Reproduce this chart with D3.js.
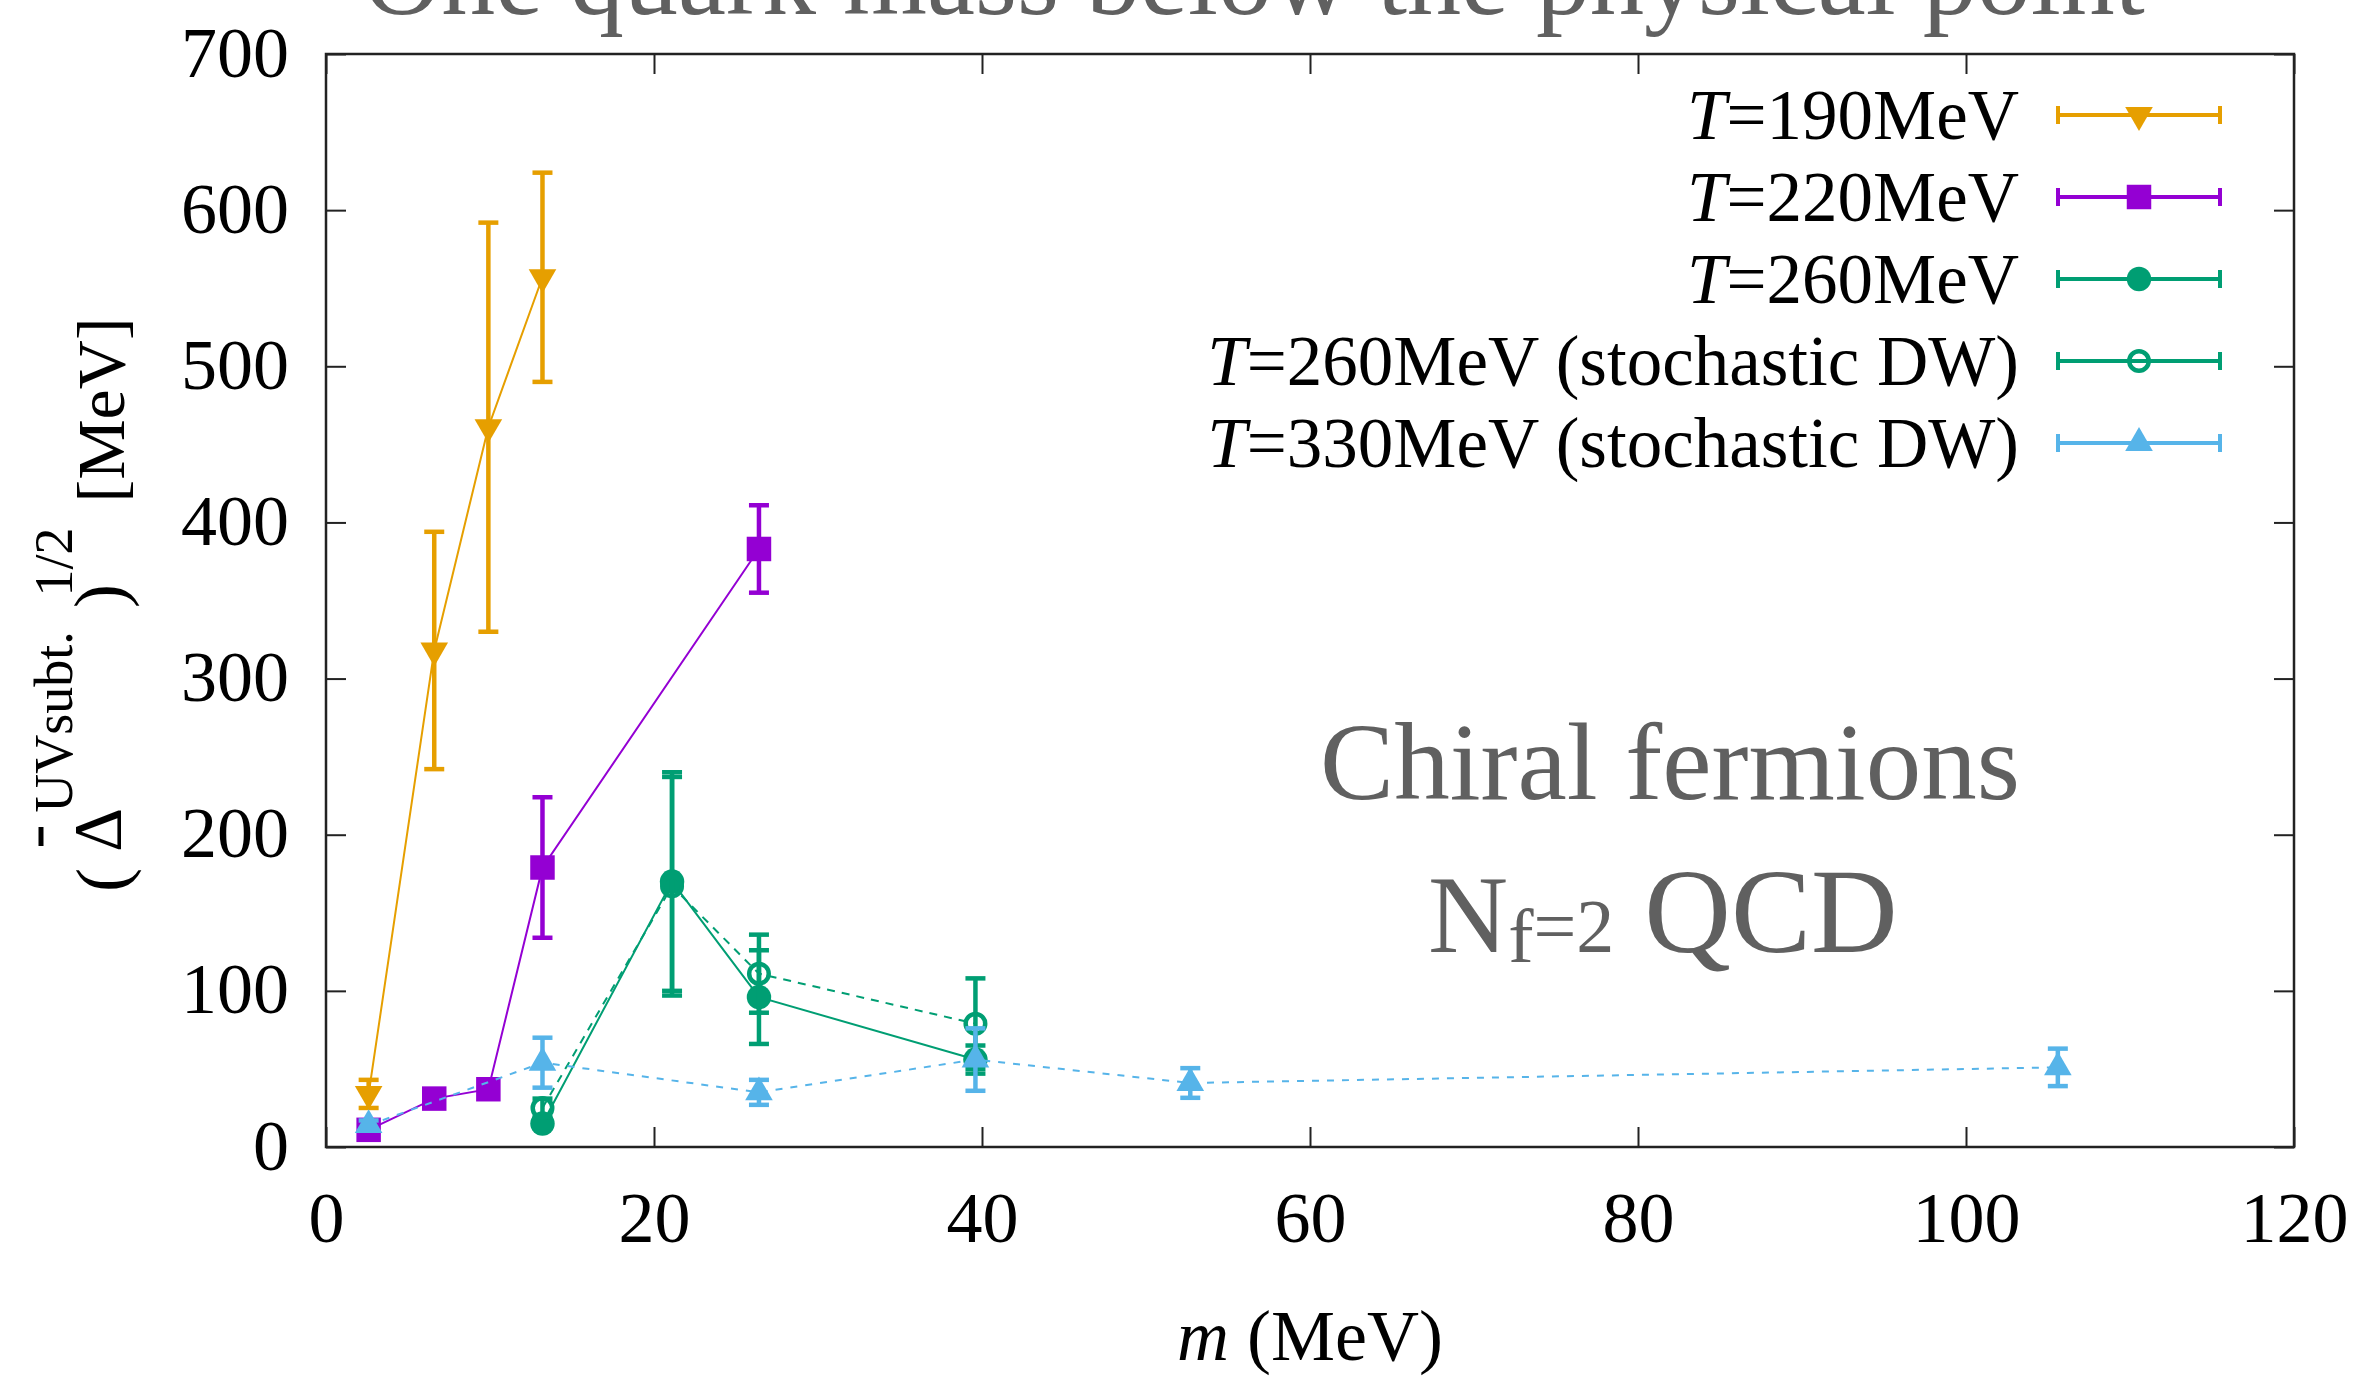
<!DOCTYPE html>
<html>
<head>
<meta charset="utf-8">
<script src="https://cdn.jsdelivr.net/npm/d3@7"></script>
<style>
  html, body { margin: 0; padding: 0; background: #fff; }
  svg { display: block; }
  text { font-family: "Liberation Serif", "DejaVu Serif", serif; }
</style>
</head>
<body>
<svg id="chart" width="2362" height="1380"></svg>
<script>
// Quark mass m (MeV) for each data series, with the measured value and its error
const m190 = [2.6, 6.6, 9.9, 13.2];
const v190 = [34, 318, 461, 557];
const e190 = [9, 76, 131, 67];

const m220 = [2.6, 6.6, 9.9, 13.2, 26.4];
const v220 = [11, 31, 37, 179, 383];
const e220 = [2, 2, 2, 45, 28];

const m260 = [13.2, 21.1, 26.4, 39.6];
const v260 = [15, 170, 96, 56];
const e260 = [3, 70, 30, 9];

const m260s = [13.2, 21.1, 26.4, 39.6];
const v260s = [25, 167, 111, 79];
const e260s = [6, 70, 25, 29];

const m330s = [2.6, 13.2, 26.4, 39.6, 52.7, 105.6];
const v330s = [14, 54, 35, 56, 41, 51];
const e330s = [3, 16, 8, 20, 9.5, 12];

const seriesLabels = ["=190MeV", "=220MeV", "=260MeV", "=260MeV (stochastic DW)", "=330MeV (stochastic DW)"];
const seriesColors = ["#E69F00", "#9400D3", "#009E73", "#009E73", "#56B4E9"];

const xTicks = [0, 20, 40, 60, 80, 100, 120];
const yTicks = [0, 100, 200, 300, 400, 500, 600, 700];

const svg = d3.select("#chart");
const L = 326, R = 2294, T = 54, B = 1147;
const x = d3.scaleLinear().domain([0, 120]).range([L, R]);
const y = d3.scaleLinear().domain([0, 700]).range([B, T]);

const tickFont = 72;

// Axes: inward ticks on all four sides
const gB = svg.append("g").attr("transform", `translate(0,${B})`)
  .call(d3.axisBottom(x).tickValues(xTicks).tickSizeInner(-20).tickSizeOuter(0).tickFormat(d3.format("d")));
gB.selectAll("text").attr("y", 95).attr("dy", null).attr("font-size", tickFont)
  .attr("font-family", "Liberation Serif").attr("fill", "#000");
const gL = svg.append("g").attr("transform", `translate(${L},0)`)
  .call(d3.axisLeft(y).tickValues(yTicks).tickSizeInner(-20).tickSizeOuter(0).tickFormat(d3.format("d")));
gL.selectAll("text").attr("x", -37).attr("dy", null).attr("y", 22).attr("font-size", tickFont)
  .attr("font-family", "Liberation Serif").attr("fill", "#000");
svg.append("g").attr("transform", `translate(0,${T})`)
  .call(d3.axisTop(x).tickValues(xTicks).tickSizeInner(-20).tickSizeOuter(0).tickFormat(""));
svg.append("g").attr("transform", `translate(${R},0)`)
  .call(d3.axisRight(y).tickValues(yTicks).tickSizeInner(-20).tickSizeOuter(0).tickFormat(""));
svg.selectAll(".domain").remove();
svg.selectAll(".tick line").attr("stroke", "#222").attr("stroke-width", 2);

svg.append("rect").attr("x", L).attr("y", T).attr("width", R - L).attr("height", B - T)
  .attr("fill", "none").attr("stroke", "#222").attr("stroke-width", 2.5);

// Title (partly outside the top edge)
svg.append("text").attr("x", 1254).attr("y", 14).attr("text-anchor", "middle")
  .attr("font-size", 108).attr("fill", "#606060")
  .text("One quark mass below the physical point");

// Annotation
svg.append("text").attr("x", 1670).attr("y", 799).attr("text-anchor", "middle")
  .attr("font-size", 111).attr("fill", "#606060").text("Chiral fermions");
const nf = svg.append("text").attr("x", 1428).attr("y", 952).attr("fill", "#606060").attr("font-size", 111);
nf.append("tspan").text("N");
nf.append("tspan").attr("font-size", 76).attr("dy", 10).text("f");
nf.append("tspan").attr("font-size", 76).attr("dy", -10).text("=2");
nf.append("tspan").attr("font-size", 120).text(" QCD");

// Axis labels
const xl = svg.append("text").attr("x", 1310).attr("y", 1360).attr("text-anchor", "middle").attr("font-size", 72);
xl.append("tspan").attr("font-style", "italic").text("m");
xl.append("tspan").text(" (MeV)");

function vlabel(txt, xb, yc, size) {
  svg.append("text").attr("transform", `translate(${xb},${yc}) rotate(-90)`)
    .attr("text-anchor", "middle").attr("font-size", size).text(txt);
}
vlabel("(", 126, 880, 72);
vlabel("Δ", 120, 830, 68);
svg.append("line").attr("x1", 41).attr("x2", 41).attr("y1", 827).attr("y2", 846)
  .attr("stroke", "#000").attr("stroke-width", 5);
vlabel("UVsubt.", 72, 722, 54);
vlabel(")", 124, 596, 72);
vlabel("1/2", 72, 562, 54);
vlabel("[MeV]", 124, 410, 68);

// Data series
const series = [
  { m: m190, v: v190, e: e190, sym: "tri-down", dash: null },
  { m: m220, v: v220, e: e220, sym: "square", dash: null },
  { m: m260, v: v260, e: e260, sym: "circle", dash: null },
  { m: m260s, v: v260s, e: e260s, sym: "circle-open", dash: "8,7" },
  { m: m330s, v: v330s, e: e330s, sym: "tri-up", dash: "7,8" }
];

function symbolPath(kind) {
  if (kind === "square") return d3.symbol(d3.symbolSquare, 600)();
  if (kind === "circle") return d3.symbol(d3.symbolCircle, 470)();
  if (kind === "circle-open") return d3.symbol(d3.symbolCircle, 300)();
  return d3.symbol(d3.symbolTriangle, 330)();
}
function drawMarker(g, kind, color, cx, cy) {
  const p = g.append("path").attr("d", symbolPath(kind));
  let tr = `translate(${cx},${cy})`;
  if (kind === "tri-down") tr += " rotate(180)";
  p.attr("transform", tr);
  if (kind === "circle-open") p.attr("fill", "none").attr("stroke", color).attr("stroke-width", 4.5);
  else p.attr("fill", color);
}

const line = d3.line().x(d => x(d[0])).y(d => y(d[1]));

series.forEach((s, i) => {
  const c = seriesColors[i];
  const g = svg.append("g");
  const pts = s.m.map((mm, k) => [mm, s.v[k], s.e[k]]);
  g.append("path").attr("d", line(pts)).attr("fill", "none").attr("stroke", c)
    .attr("stroke-width", 2).attr("stroke-dasharray", s.dash);
  pts.forEach(p => {
    const px = x(p[0]), top = y(p[1] + p[2]), bot = y(p[1] - p[2]);
    g.append("line").attr("x1", px).attr("x2", px).attr("y1", top).attr("y2", bot)
      .attr("stroke", c).attr("stroke-width", 4.5);
    [top, bot].forEach(yy => g.append("line").attr("x1", px - 10).attr("x2", px + 10)
      .attr("y1", yy).attr("y2", yy).attr("stroke", c).attr("stroke-width", 4.5));
    drawMarker(g, s.sym, c, px, y(p[1]));
  });
});

// Legend
const legY = [115, 197, 279, 361, 443];
series.forEach((s, i) => {
  const c = seriesColors[i];
  const yy = legY[i];
  const t = svg.append("text").attr("x", 2019).attr("y", yy + 24).attr("text-anchor", "end").attr("font-size", 71);
  t.append("tspan").attr("font-style", "italic").text("T");
  t.append("tspan").text(seriesLabels[i]);
  svg.append("line").attr("x1", 2058).attr("x2", 2220).attr("y1", yy).attr("y2", yy)
    .attr("stroke", c).attr("stroke-width", 4);
  [2058, 2220].forEach(xx => svg.append("line").attr("x1", xx).attr("x2", xx)
    .attr("y1", yy - 9).attr("y2", yy + 9).attr("stroke", c).attr("stroke-width", 4));
  drawMarker(svg, s.sym, c, 2139, yy);
});
</script>
</body>
</html>
